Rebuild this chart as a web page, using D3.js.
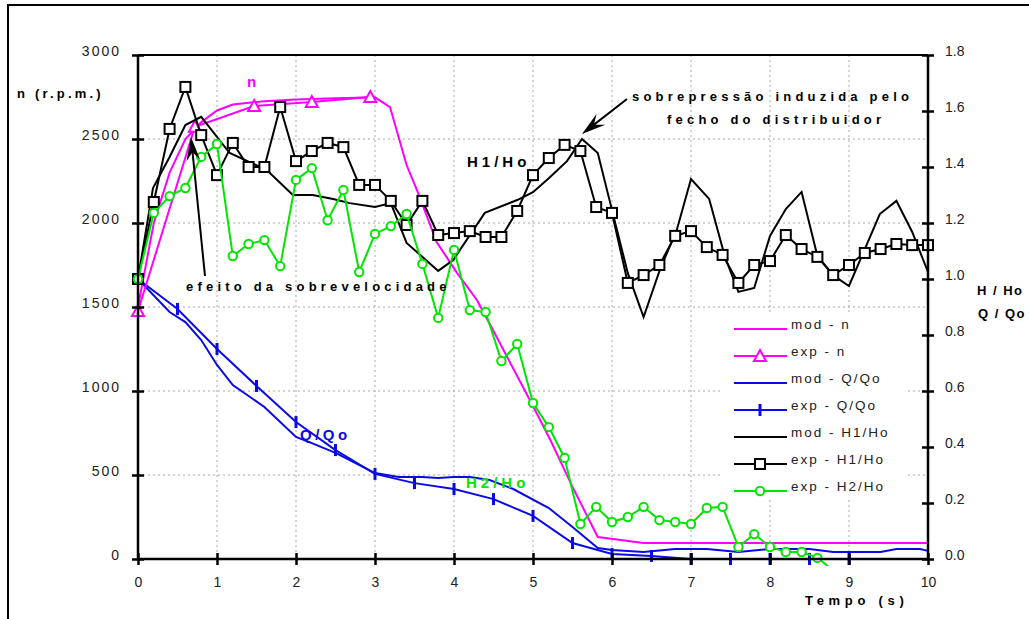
<!DOCTYPE html>
<html><head><meta charset="utf-8">
<script src="https://cdn.jsdelivr.net/npm/d3@7"></script>
<style>
body{margin:0;background:#fff;}
svg{display:block;font-family:"Liberation Sans",Arial,sans-serif;}
</style></head><body>
<svg id="chart" width="1029" height="619"></svg>
<script>
// ---- axis ticks ----
const timeTicks = [0, 1, 2, 3, 4, 5, 6, 7, 8, 9, 10];
const rpmTicks = [0, 500, 1000, 1500, 2000, 2500, 3000];
const ratioTicks = [0, 0.2, 0.4, 0.6, 0.8, 1.0, 1.2, 1.4, 1.6, 1.8];

// ---- rotational speed n (r.p.m.) ----
const modNTime = [0, 0.2, 0.4, 0.6, 0.8, 1.0, 1.2, 1.6, 2.0, 2.5, 3.0, 3.19, 3.4, 3.54, 3.78, 4.04, 4.29, 4.48, 4.96, 5.22, 5.5, 5.82, 6.4, 10];
const modNRpm  = [1500, 2000, 2300, 2500, 2600, 2670, 2705, 2725, 2735, 2742, 2748, 2690, 2345, 2185, 1887, 1702, 1542, 1375, 946, 708, 429, 131, 95, 95];
const expNTime = [0, 0.72, 1.47, 2.2, 2.94];
const expNRpm  = [1476, 2573, 2696, 2720, 2750];

// ---- discharge Q/Qo ----
const modQTime = [0, 0.4, 0.6, 0.8, 1.0, 1.2, 1.6, 2.0, 2.2, 2.5, 3.0, 3.3, 3.6, 3.8, 4.0, 4.2, 4.45, 4.75, 5.2, 5.5, 5.82, 6.0, 6.4, 6.8, 7.2, 7.6, 8.0, 8.5, 8.8, 9.4, 9.6, 9.9, 10];
const modQVal  = [1.0, 0.882, 0.846, 0.782, 0.693, 0.621, 0.543, 0.436, 0.414, 0.379, 0.307, 0.293, 0.293, 0.289, 0.293, 0.293, 0.282, 0.25, 0.182, 0.114, 0.039, 0.032, 0.025, 0.036, 0.036, 0.025, 0.036, 0.036, 0.025, 0.025, 0.036, 0.036, 0.029];
const expQTime = [0, 0.5, 1, 1.5, 2, 2.5, 3, 3.5, 4, 4.5, 5, 5.5, 6, 6.5, 7, 7.5, 8, 8.5, 9];
const expQVal  = [1.0, 0.893, 0.75, 0.618, 0.489, 0.389, 0.304, 0.271, 0.25, 0.214, 0.154, 0.057, 0.018, 0.011, 0, 0, 0, 0, 0];

// ---- head upstream H1/Ho ----
const modH1Time = [0, 0.19, 0.4, 0.6, 0.8, 1.16, 1.63, 1.96, 2.21, 2.47, 2.68, 3.0, 3.2, 3.4, 3.8, 3.99, 4.39, 4.8, 5.0, 5.2, 5.43, 5.62, 5.82, 6.0, 6.2, 6.4, 6.61, 6.82, 7.0, 7.23, 7.43, 7.6, 7.8, 8.0, 8.2, 8.4, 8.6, 8.81, 9.0, 9.2, 9.39, 9.6, 9.8, 10];
const modH1Val  = [1.0, 1.325, 1.436, 1.55, 1.579, 1.45, 1.389, 1.30, 1.30, 1.286, 1.271, 1.257, 1.271, 1.129, 1.029, 1.068, 1.236, 1.282, 1.31, 1.36, 1.421, 1.5, 1.45, 1.246, 1.021, 0.864, 1.036, 1.175, 1.357, 1.286, 1.079, 0.954, 0.968, 1.154, 1.25, 1.311, 1.082, 1.011, 0.975, 1.107, 1.232, 1.279, 1.168, 1.025];
const expH1Time = [0, 0.2, 0.4, 0.6, 0.8, 1.0, 1.2, 1.4, 1.6, 1.8, 2.0, 2.2, 2.4, 2.6, 2.8, 3.0, 3.2, 3.4, 3.6, 3.8, 4.0, 4.2, 4.4, 4.6, 4.8, 5.0, 5.2, 5.4, 5.6, 5.8, 6.0, 6.2, 6.4, 6.6, 6.8, 7.0, 7.2, 7.4, 7.6, 7.8, 8.0, 8.2, 8.4, 8.6, 8.8, 9.0, 9.2, 9.4, 9.6, 9.8, 10];
const expH1Val  = [1.0, 1.275, 1.536, 1.686, 1.514, 1.371, 1.486, 1.40, 1.40, 1.614, 1.421, 1.457, 1.486, 1.471, 1.336, 1.336, 1.279, 1.193, 1.279, 1.157, 1.164, 1.171, 1.15, 1.15, 1.243, 1.371, 1.432, 1.479, 1.457, 1.257, 1.236, 0.986, 1.014, 1.05, 1.154, 1.171, 1.114, 1.086, 0.986, 1.05, 1.064, 1.157, 1.107, 1.079, 1.014, 1.05, 1.093, 1.107, 1.125, 1.121, 1.121];

// ---- head downstream H2/Ho ----
const expH2Time = [0, 0.2, 0.4, 0.6, 0.8, 1.0, 1.2, 1.4, 1.6, 1.8, 2.0, 2.2, 2.4, 2.6, 2.8, 3.0, 3.2, 3.4, 3.6, 3.8, 4.0, 4.2, 4.4, 4.6, 4.8, 5.0, 5.2, 5.4, 5.6, 5.8, 6.0, 6.2, 6.4, 6.6, 6.8, 7.0, 7.2, 7.4, 7.6, 7.8, 8.0, 8.2, 8.4, 8.6, 8.8];
const expH2Val  = [1.0, 1.236, 1.296, 1.325, 1.436, 1.482, 1.082, 1.125, 1.139, 1.046, 1.354, 1.396, 1.21, 1.318, 1.025, 1.161, 1.189, 1.232, 1.054, 0.861, 1.104, 0.889, 0.882, 0.707, 0.768, 0.557, 0.471, 0.361, 0.125, 0.186, 0.132, 0.15, 0.186, 0.139, 0.132, 0.125, 0.182, 0.186, 0.043, 0.089, 0.043, 0.025, 0.025, 0.004, -0.04];

// ---- legend entries ----
const legendLabels = ["mod - n", "exp - n", "mod - Q/Qo", "exp - Q/Qo", "mod - H1/Ho", "exp - H1/Ho", "exp - H2/Ho"];

const MAGENTA = "#ff00ff", BLUE = "#0a0ae6", BLACK = "#000", GREEN = "#00e600";

const svg = d3.select("#chart");
const x = d3.scaleLinear().domain([0, 10]).range([138, 928]);
const yL = d3.scaleLinear().domain([0, 3000]).range([559, 55]);
const yR = d3.scaleLinear().domain([0, 1.8]).range([559, 55]);

// outer frame
svg.append("rect").attr("x", 8).attr("y", 5).attr("width", 1060).attr("height", 660)
  .attr("fill", "none").attr("stroke", "#000").attr("stroke-width", 2);

// dotted grid
const grid = svg.append("g").attr("stroke", "#a8a8a8").attr("stroke-width", 1).attr("stroke-dasharray", "2,3");
grid.selectAll("line.v").data(timeTicks.slice(1, -1)).join("line")
  .attr("x1", d => x(d)).attr("x2", d => x(d)).attr("y1", yL(3000)).attr("y2", yL(0));
grid.selectAll("line.h").data(rpmTicks.slice(1, -1)).join("line")
  .attr("x1", x(0)).attr("x2", x(10)).attr("y1", d => yL(d)).attr("y2", d => yL(d));

// clip for the data
svg.append("clipPath").attr("id", "plotclip").append("rect")
  .attr("x", 128).attr("y", 45).attr("width", 810).attr("height", 521);
const plot = svg.append("g").attr("clip-path", "url(#plotclip)");

function pairs(ts, vs) { return ts.map((t, i) => [t, vs[i]]); }
function drawLine(data, yScale, color, w) {
  plot.append("path").datum(data)
    .attr("d", d3.line().x(d => x(d[0])).y(d => yScale(d[1])))
    .attr("fill", "none").attr("stroke", color).attr("stroke-width", w || 2)
    .attr("stroke-linejoin", "miter");
}

// marker shapes
function squareMarker(g, cx, cy) {
  g.append("rect").attr("x", cx - 5).attr("y", cy - 5).attr("width", 10).attr("height", 10)
    .attr("fill", "#fff").attr("stroke", BLACK).attr("stroke-width", 2);
}
function circleMarker(g, cx, cy) {
  g.append("circle").attr("cx", cx).attr("cy", cy).attr("r", 4.2)
    .attr("fill", "#fff").attr("stroke", GREEN).attr("stroke-width", 2);
}
function triMarker(g, cx, cy) {
  g.append("path").attr("d", `M${cx},${cy - 6}L${cx + 6},${cy + 5}L${cx - 6},${cy + 5}Z`)
    .attr("fill", "#fff").attr("stroke", MAGENTA).attr("stroke-width", 2);
}
function barMarker(g, cx, cy) {
  g.append("line").attr("x1", cx).attr("x2", cx).attr("y1", cy - 6).attr("y2", cy + 6)
    .attr("stroke", BLUE).attr("stroke-width", 3);
}

// Q/Qo
const qMod = pairs(modQTime, modQVal), qExp = pairs(expQTime, expQVal);
drawLine(qMod, yR, BLUE);
drawLine(qExp, yR, BLUE);
qExp.forEach(d => barMarker(plot, x(d[0]), yR(d[1])));

// n
const nMod = pairs(modNTime, modNRpm), nExp = pairs(expNTime, expNRpm);
drawLine(nMod, yL, MAGENTA);
drawLine(nExp, yL, MAGENTA);
nExp.forEach(d => triMarker(plot, x(d[0]), yL(d[1])));

// H1/Ho
const h1Mod = pairs(modH1Time, modH1Val), h1Exp = pairs(expH1Time, expH1Val);
drawLine(h1Mod, yR, BLACK);
drawLine(h1Exp, yR, BLACK);
h1Exp.forEach(d => squareMarker(plot, x(d[0]), yR(d[1])));

// H2/Ho
const h2Exp = pairs(expH2Time, expH2Val);
drawLine(h2Exp, yR, GREEN);
h2Exp.filter(d => d[1] >= 0).forEach(d => circleMarker(plot, x(d[0]), yR(d[1])));

// plot frame: top edge
svg.append("line").attr("x1", x(0)).attr("x2", x(10)).attr("y1", yL(3000)).attr("y2", yL(3000))
  .attr("stroke", "#000").attr("stroke-width", 2);

// axes
const tickFont = { size: "14px", fill: "#222" };
const axL = svg.append("g").attr("transform", `translate(${x(0)},0)`)
  .call(d3.axisLeft(yL).tickValues(rpmTicks).tickSize(6).tickPadding(0).tickFormat(d3.format("d")));
axL.selectAll(".tick line").attr("x1", 6).attr("x2", -6).attr("stroke-width", 2.5);
axL.selectAll(".tick text").attr("x", -17).attr("dy", "0.32em").attr("y", -4)
  .style("font-size", tickFont.size).attr("fill", tickFont.fill).style("letter-spacing", "2px").style("font-family", "Liberation Sans, Arial");

const axR = svg.append("g").attr("transform", `translate(${x(10)},0)`)
  .call(d3.axisRight(yR).tickValues(ratioTicks).tickSize(6).tickFormat(d3.format(".1f")));
axR.selectAll(".tick line").attr("x1", -6).attr("x2", 6).attr("stroke-width", 2.5);
axR.selectAll(".tick text").attr("x", 17).attr("dy", "0.32em").attr("y", -4)
  .style("font-size", tickFont.size).attr("fill", tickFont.fill).style("font-family", "Liberation Sans, Arial");

const axB = svg.append("g").attr("transform", `translate(0,${yL(0)})`)
  .call(d3.axisBottom(x).tickValues(timeTicks).tickSize(6).tickFormat(d3.format("d")));
axB.selectAll(".tick line").attr("y1", -6).attr("y2", 6).attr("stroke-width", 2.5);
axB.selectAll(".tick text").attr("y", 18)
  .style("font-size", tickFont.size).attr("fill", tickFont.fill).style("font-family", "Liberation Sans, Arial");

[axL, axR, axB].forEach(a => a.select(".domain").attr("stroke-width", 2.5).attr("stroke", "#000"));
axL.select(".domain").attr("d", `M0,${yL(3000)}V${yL(0)}`);
axR.select(".domain").attr("d", `M0,${yL(3000)}V${yL(0)}`);
axB.select(".domain").attr("d", `M${x(0)},0H${x(10)}`);

// text helper
function label(txt, px, py, opt) {
  const o = Object.assign({ size: 13, weight: "bold", spacing: 3, color: "#000", anchor: "start" }, opt || {});
  svg.append("text").attr("x", px).attr("y", py).text(txt)
    .attr("font-size", o.size).attr("font-weight", o.weight).attr("fill", o.color)
    .attr("text-anchor", o.anchor).style("letter-spacing", o.spacing + "px");
}

// axis titles
label("n (r.p.m.)", 17, 98, { spacing: 3.2 });
label("H / Ho", 977, 295, { spacing: 1.5 });
label("Q / Qo", 978, 318, { spacing: 1.5 });
label("Tempo (s)", 805, 605, { spacing: 4.7 });

// series labels
label("n", 247, 87, { size: 15, color: MAGENTA });
label("H1/Ho", 467, 167, { size: 15, spacing: 4 });
label("Q/Qo", 300, 440, { size: 15, spacing: 3.5, color: BLUE });
label("H2/Ho", 466, 488, { size: 15, spacing: 4, color: GREEN });

// annotations
label("efeito da sobrevelocidade", 186, 291, { spacing: 4.2 });
label("sobrepressão induzida pelo", 632, 101, { spacing: 4.2 });
label("fecho do distribuidor", 667, 124, { spacing: 4.2 });

function arrow(x0, y0, x1, y1) {
  const ang = Math.atan2(y1 - y0, x1 - x0) * 180 / Math.PI;
  const len = Math.hypot(x1 - x0, y1 - y0);
  const g = svg.append("g").attr("transform", `translate(${x1},${y1}) rotate(${ang})`);
  g.append("line").attr("x1", -len).attr("x2", -12).attr("y1", 0).attr("y2", 0)
    .attr("stroke", "#000").attr("stroke-width", 2);
  g.append("path").attr("d", "M0,0L-24,-7L-15,0L-24,7Z").attr("fill", "#000");
}
arrow(205, 276, 191, 137);
arrow(627, 99, 582, 134);

// legend
const lg = svg.append("g");
lg.append("rect").attr("x", 723).attr("y", 312).attr("width", 184).attr("height", 188).attr("fill", "#fff");
const legendRows = [
  { color: MAGENTA, mark: null }, { color: MAGENTA, mark: triMarker },
  { color: BLUE, mark: null }, { color: BLUE, mark: barMarker },
  { color: BLACK, mark: null }, { color: BLACK, mark: squareMarker },
  { color: GREEN, mark: circleMarker }
];
const rowY = d3.scalePoint().domain(d3.range(legendLabels.length)).range([329, 491]);
legendLabels.forEach((txt, i) => {
  const yy = rowY(i);
  lg.append("line").attr("x1", 734).attr("x2", 787).attr("y1", yy).attr("y2", yy)
    .attr("stroke", legendRows[i].color).attr("stroke-width", 2);
  if (legendRows[i].mark) legendRows[i].mark(lg, 760, yy);
  lg.append("text").attr("x", 791).attr("y", yy).text(txt)
    .attr("font-size", 13.5).attr("fill", "#222").style("letter-spacing", "2px");
});
</script>
</body></html>
